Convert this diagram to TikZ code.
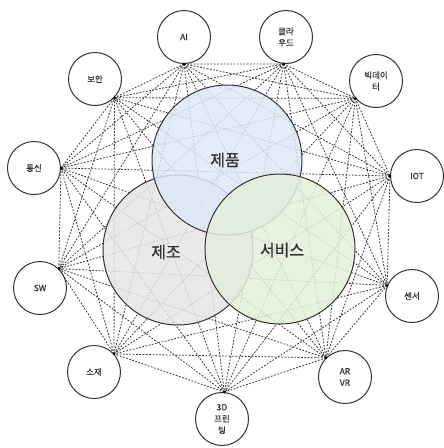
\documentclass[tikz,border=0pt]{standalone}
\usepackage{fontspec}
\newfontfamily\kr[FakeBold=0.6]{Noto Sans CJK KR}
\definecolor{bluec}{HTML}{DEE7F4}
\definecolor{greyc}{HTML}{E5E5E5}
\definecolor{greenc}{HTML}{E3EFDB}
\definecolor{inkc}{HTML}{333333}
\begin{document}
\begin{tikzpicture}[x=1pt,y=-1pt,
  sm/.style={circle,draw=inkc,line width=1pt,minimum size=53pt,inner sep=0pt,align=center,text=inkc,font=\kr\fontsize{8.5}{11.5}\selectfont},
  link/.style={draw=black!78,line width=0.8pt,dash pattern=on 1.8pt off 1.5pt},
  big/.style={circle,draw=inkc,line width=1pt,minimum size=150pt,inner sep=0pt,fill opacity=0.85},
  biglabel/.style={text=inkc,font=\kr\fontsize{16}{18}\selectfont},
  hub/.style={fill=black,radius=1.3pt}]
\useasboundingbox (0,0) rectangle (444,448);
% small circles
\node[sm] (ai)  at (184,37)  {AI};
\node[sm] (cl)  at (286,37)  {클라\\우드};
\node[sm] (bd)  at (376,81)  {빅데이\\터};
\node[sm] (iot) at (417,176) {IOT};
\node[sm] (sen) at (412,296) {센서};
\node[sm] (ar)  at (345,377) {AR\\VR};
\node[sm] (pr)  at (222,419) {3D\\프린\\팅};
\node[sm] (mat) at (94,372)  {소재};
\node[sm] (sw)  at (40,288)  {SW};
\node[sm] (com) at (34,168)  {통신};
\node[sm] (sec) at (95,79)   {보안};
% connection points
\coordinate (c1) at (ai.270);
\coordinate (c2) at (cl.265);
\coordinate (c3) at (bd.220);
\coordinate (c4) at (iot.180);
\coordinate (c5) at (sen.157);
\coordinate (c6) at (ar.135);
\coordinate (c7) at (pr.85);
\coordinate (c8) at (mat.42);
\coordinate (c9) at (sw.46);
\coordinate (c10) at (com.0);
\coordinate (c11) at (sec.316);
% complete graph of dashed links
\foreach \i in {1,...,10}{
  \pgfmathtruncatemacro\s{\i+1}
  \foreach \j in {\s,...,11}{
    \draw[link] (c\i) -- (c\j);
  }
}
\foreach \i in {1,...,11}{ \fill[hub] (c\i) circle; }
% big circles
\node[big,fill=greyc]  (mfg)  at (178,250) {};
\node[big,fill=bluec]  (prod) at (227,160) {};
\node[big,fill=greenc] (svc)  at (280,249) {};
\node[biglabel] (lprod) at (225,160) {제품};
\node[biglabel] (lmfg)  at (166,252) {제조};
\node[biglabel] (lsvc)  at (282,250) {서비스};
\end{tikzpicture}
\end{document}
